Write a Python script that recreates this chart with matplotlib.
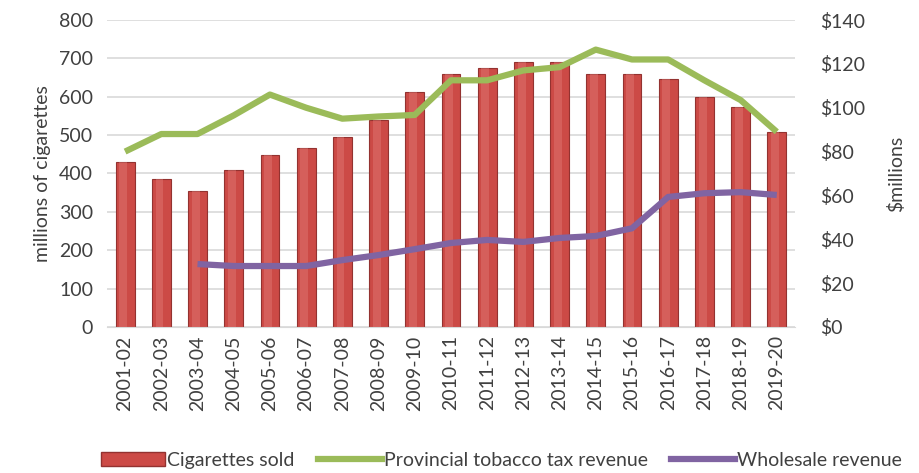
import matplotlib.pyplot as plt
from matplotlib.patches import Patch
from matplotlib.lines import Line2D
import numpy as np

plt.rcParams['font.family'] = ['Lato', 'DejaVu Sans']
FONTSIZE = 14
TXT = '#404040'

years = ['2001-02', '2002-03', '2003-04', '2004-05', '2005-06', '2006-07', '2007-08',
         '2008-09', '2009-10', '2010-11', '2011-12', '2012-13', '2013-14', '2014-15',
         '2015-16', '2016-17', '2017-18', '2018-19', '2019-20']
cigs = [430, 385, 355, 408, 449, 467, 495, 540, 612, 660, 675, 690, 690, 660, 660,
        645, 600, 573, 508]
tax = [80, 88, 88, 96.5, 106, 100, 95, 96, 96.7, 112.5, 112.5, 117, 118.5, 126.5,
       122, 122, 112.5, 103.5, 89]
wholesale = [np.nan, np.nan, 28.7, 27.8, 27.8, 27.8, 30.5, 32.8, 35.5, 38.3, 39.7,
             38.8, 40.6, 41.5, 45, 59.3, 61, 61.5, 60.2]

x = np.arange(len(years))

fig = plt.figure(figsize=(9.2, 4.73), dpi=100)
ax = fig.add_axes([0.1163, 0.3087, 0.864 - 0.1163, 0.9577 - 0.3087])
ax2 = ax.twinx()

ax.bar(x, cigs, width=0.52, color='#CC4A46', edgecolor='#933230', linewidth=0.8, zorder=2)
# lighter highlight stripe on each bar
ax.bar(x - 0.05, cigs, width=0.22, color='#E4807C', alpha=0.4, linewidth=0, zorder=3)

ax2.plot(x, tax, color='#9BBB59', linewidth=4.5, solid_joinstyle='round',
         solid_capstyle='butt', zorder=4)
ax2.plot(x, wholesale, color='#8064A2', linewidth=4.5, solid_joinstyle='round',
         solid_capstyle='butt', zorder=4)

ax.set_xlim(-0.5, len(years) - 0.5)
ax.set_ylim(0, 800)
ax.set_yticks(range(0, 801, 100))
ax2.set_ylim(0, 140)
ax2.set_yticks(range(0, 141, 20))
ax2.set_yticklabels(['$' + str(v) for v in range(0, 141, 20)])

ax.yaxis.grid(True, color='#D9D9D9', linewidth=1.2, zorder=0)
ax.set_axisbelow(True)
ax.set_xticks(x)
ax.set_xticklabels(years, rotation=90)

for a in (ax, ax2):
    for s in a.spines.values():
        s.set_visible(False)
    a.tick_params(length=0, labelsize=FONTSIZE, colors=TXT)
ax.spines['bottom'].set_visible(True)
ax.spines['bottom'].set_color('#D9D9D9')
ax.tick_params(axis='x', pad=6)
ax.tick_params(axis='y', pad=10)
ax2.tick_params(axis='y', pad=18)
ax2.set_zorder(ax.get_zorder() + 1)

ax.set_ylabel('millions of cigarettes', fontsize=FONTSIZE, color=TXT, labelpad=6)
ax2.set_ylabel('$millions', fontsize=FONTSIZE, color=TXT, labelpad=16)

handles = [Patch(facecolor='#CC4A46', edgecolor='#933230'),
           Line2D([], [], color='#9BBB59', linewidth=4.5),
           Line2D([], [], color='#8064A2', linewidth=4.5)]
labels = ['Cigarettes sold', 'Provincial tobacco tax revenue', 'Wholesale revenue']
fig.legend(handles, labels, loc='center', bbox_to_anchor=(0.545, 0.027), ncol=3,
           frameon=False, fontsize=FONTSIZE, handlelength=3.3, handletextpad=0.1,
           columnspacing=1.2, labelcolor=TXT)

fig.savefig('out.png', dpi=100)
